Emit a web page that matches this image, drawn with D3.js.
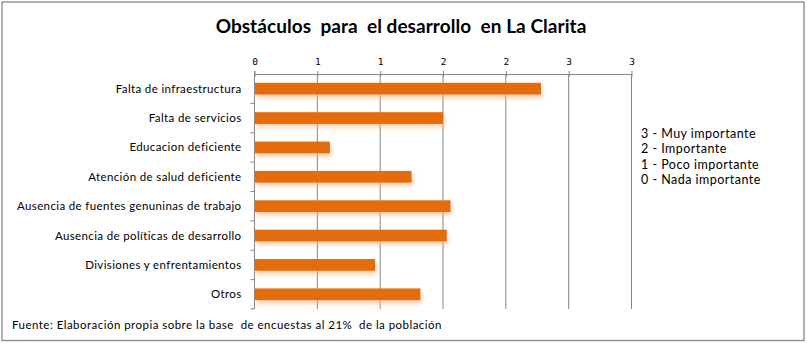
<!DOCTYPE html>
<html>
<head>
<meta charset="utf-8">
<script src="https://cdn.jsdelivr.net/npm/d3@7"></script>
<style>
  html, body { margin: 0; padding: 0; background: #fff; }
  svg { display: block; }
  text { font-family: Lato, "Open Sans", sans-serif; fill: #000; white-space: pre; }
</style>
</head>
<body>
<svg id="chart" width="807" height="343"></svg>
<script>
// Obstacles and their average importance score (0–3)
const categories = [
  "Falta de infraestructura",
  "Falta de servicios",
  "Educacion deficiente",
  "Atención de salud deficiente",
  "Ausencia de fuentes genuninas de trabajo",
  "Ausencia de políticas de desarrollo",
  "Divisiones y enfrentamientos",
  "Otros"
];
const values = [2.28, 1.50, 0.60, 1.25, 1.56, 1.53, 0.96, 1.32];
const tickValues = [0, 0.5, 1, 1.5, 2, 2.5, 3];
const tickLabels = ["0", "1", "1", "2", "2", "3", "3"];
const legendLines = [
  "3 - Muy importante",
  "2 - Importante",
  "1 - Poco importante",
  "0 - Nada importante"
];
const titleText = "Obstáculos  para  el desarrollo  en La Clarita";
const sourceText = "Fuente: Elaboración propia sobre la base  de encuestas al 21%  de la población";

const svg = d3.select("#chart");
const plot = { left: 254.5, right: 631.5, top: 74, bottom: 309 };
const gridColor = "#868686";

// Outer frame
svg.append("rect")
  .attr("x", 2).attr("y", 2).attr("width", 802).attr("height", 338.5)
  .attr("fill", "#fff").attr("stroke", gridColor).attr("stroke-width", 1.3);

// Soft orange glow under each bar
const defs = svg.append("defs");
const f = defs.append("filter").attr("id", "barShadow")
  .attr("x", "-10%").attr("y", "-40%").attr("width", "130%").attr("height", "220%");
f.append("feDropShadow")
  .attr("dx", 1.5).attr("dy", 3.5).attr("stdDeviation", 2)
  .attr("flood-color", "#f9b27a").attr("flood-opacity", 0.6);

const x = d3.scaleLinear().domain([0, 3]).range([plot.left, plot.right]);
const y = d3.scaleBand().domain(categories).range([plot.top, plot.bottom])
  .paddingInner(0.6).paddingOuter(0.3);

// Vertical gridlines
svg.append("g").selectAll("line")
  .data(tickValues.slice(1))
  .join("line")
  .attr("x1", d => x(d)).attr("x2", d => x(d))
  .attr("y1", plot.top).attr("y2", plot.bottom)
  .attr("stroke", gridColor).attr("stroke-width", 1);

// Top value axis
const xAxis = d3.axisTop(x)
  .tickValues(tickValues)
  .tickFormat((d, i) => tickLabels[i])
  .tickSizeInner(3).tickSizeOuter(0).tickPadding(6);
const gx = svg.append("g").attr("transform", `translate(0,${plot.top})`).call(xAxis);
gx.select(".domain").attr("stroke", gridColor);
gx.selectAll(".tick line").attr("stroke", gridColor).attr("y2", -3)
  .clone().attr("y2", 3);
gx.selectAll(".tick text")
  .style("font-family", "'DejaVu Sans Mono', monospace")
  .attr("font-size", 9.5).attr("fill", "#000");

// Left category axis
const boundaries = categories.map((c, i) => plot.top + (plot.bottom - plot.top) * (i + 1) / categories.length);
const gy = svg.append("g");
gy.append("line")
  .attr("x1", plot.left).attr("x2", plot.left)
  .attr("y1", plot.top - 3).attr("y2", plot.bottom)
  .attr("stroke", gridColor);
gy.selectAll("line.tk").data(boundaries).join("line").attr("class", "tk")
  .attr("x1", plot.left - 4).attr("x2", plot.left)
  .attr("y1", d => d).attr("y2", d => d)
  .attr("stroke", gridColor);
gy.selectAll("text").data(categories).join("text")
  .attr("x", plot.left - 13)
  .attr("y", d => y(d) + y.bandwidth() / 2)
  .attr("dy", "0.35em")
  .attr("text-anchor", "end")
  .attr("font-size", 11.5)
  .attr("letter-spacing", 0.37)
  .text(d => d);

// Bars
svg.append("g").selectAll("rect")
  .data(categories.map((c, i) => ({ c, v: values[i] })))
  .join("rect")
  .attr("x", x(0) + 0.5)
  .attr("y", d => y(d.c))
  .attr("width", d => x(d.v) - x(0) - 0.5)
  .attr("height", y.bandwidth())
  .attr("fill", "#e46c0a")
  .attr("filter", "url(#barShadow)");

// Title
svg.append("text")
  .attr("x", 401).attr("y", 33)
  .attr("text-anchor", "middle")
  .attr("font-size", 19).attr("font-weight", "bold")
  .attr("letter-spacing", 0.05)
  .text(titleText);

// Scale legend
svg.append("g").selectAll("text")
  .data(legendLines)
  .join("text")
  .attr("x", 641)
  .attr("y", (d, i) => 137.5 + i * 15.6)
  .attr("font-size", 12.5)
  .attr("letter-spacing", 0.47)
  .text(d => d);

// Source note
svg.append("text")
  .attr("x", 12).attr("y", 329)
  .attr("font-size", 11.5)
  .attr("letter-spacing", 0.47)
  .text(sourceText);
</script>
</body>
</html>
